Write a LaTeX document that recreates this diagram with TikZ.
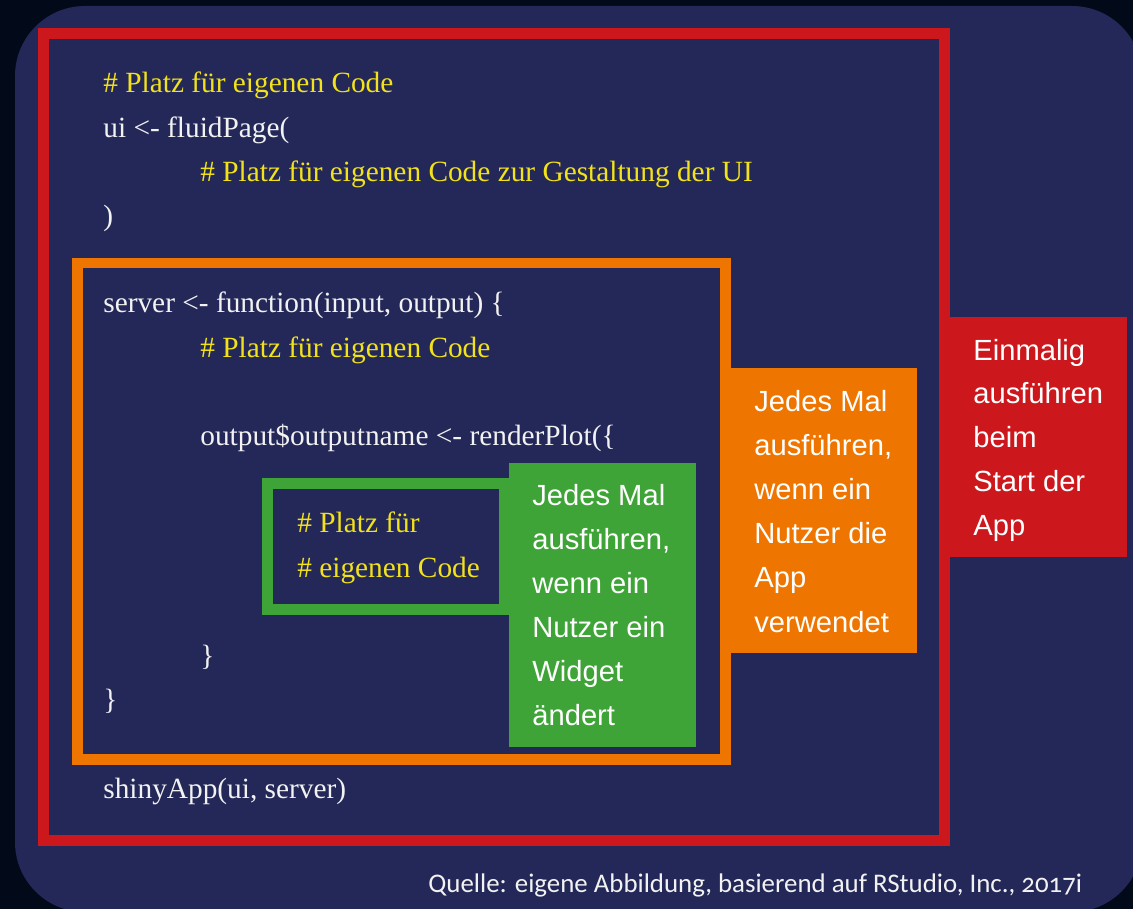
\documentclass[tikz,border=0pt]{standalone}
\usepackage{fontspec}
\setmainfont{Liberation Serif}
\setsansfont{Liberation Sans}
\newfontfamily\capfont[Numbers=OldStyle]{Carlito}
\usepackage{tikz}

\definecolor{outer}{HTML}{020A1A}
\definecolor{navy}{HTML}{242858}
\definecolor{appred}{HTML}{CC181C}
\definecolor{apporange}{HTML}{EE7600}
\definecolor{appgreen}{HTML}{3FA437}
\definecolor{codeyellow}{HTML}{F2E21A}
\definecolor{codewhite}{HTML}{F2F2F2}

\tikzset{
  codeline/.style={anchor=base west,inner sep=0,text=codewhite,
    font=\fontsize{16.7}{20}\selectfont},
  remark/.style={codeline,text=codeyellow},
  note/.style={anchor=base west,inner sep=0,text=white,
    font=\sffamily\fontsize{16.6}{20}\selectfont}
}

\begin{document}
\begin{tikzpicture}[x=0.02cm,y=-0.02cm]
  \useasboundingbox (0,0) rectangle (1133,909);
  \fill[outer] (0,0) rectangle (1133,909);
  \begin{scope}
    \clip (0,0) rectangle (1133,909);
    \fill[navy] (15,6) [rounded corners=1.4cm] rectangle (1142,912);
  \end{scope}

  % frames
  \draw[appred,line width=0.22cm] (43.5,33.5) rectangle (944.5,840.5);
  \fill[appred] (939,317) rectangle (1127,557);
  \draw[apporange,line width=0.21cm] (77.5,263) rectangle (725.5,759.5);
  \fill[apporange] (721,368) rectangle (917,653);
  \draw[appgreen,line width=0.22cm] (267.5,483.5) rectangle (504.5,609.5);
  \fill[appgreen] (509,463) rectangle (696,747);

  % code
  \node[remark] (c1) at (103,92) {\# Platz für eigenen Code};
  \node[codeline] (c2) at (103,137) {ui <- fluidPage(};
  \node[remark] (c3) at (200,181) {\# Platz für eigenen Code zur Gestaltung der UI};
  \node[codeline] (c4) at (103,225) {)};
  \node[codeline] (c5) at (103,312) {server <- function(input, output) \{};
  \node[remark] (c6) at (200,357) {\# Platz für eigenen Code};
  \node[codeline] (c7) at (200,445) {output\$outputname <- renderPlot(\{};
  \node[remark] (c8) at (297,532) {\# Platz für};
  \node[remark] (c9) at (297,577) {\# eigenen Code};
  \node[codeline] (c10) at (200,665) {\}};
  \node[codeline] (c11) at (103,709) {\}};
  \node[codeline] (c12) at (103,798) {shinyApp(ui, server)};

  % notes
  \foreach \t [count=\i] in {Jedes Mal,{ausführen,},wenn ein,Nutzer ein,Widget,ändert}
    \node[note] (g\i) at (532,{505+44*(\i-1)}) {\t};
  \foreach \t [count=\i] in {Jedes Mal,{ausführen,},wenn ein,Nutzer die,App,verwendet}
    \node[note] (o\i) at (754,{411+44.2*(\i-1)}) {\t};
  \foreach \t [count=\i] in {Einmalig,ausführen,beim,Start der,App}
    \node[note] (r\i) at (973,{360+43.75*(\i-1)}) {\t};

  \node[anchor=base west,inner sep=0,text=codewhite,font=\capfont\fontsize{15.3}{18}\selectfont]
    (quelle) at (428,892) {Quelle: eigene Abbildung, basierend auf RStudio, Inc., 2017i};
\end{tikzpicture}
\end{document}
